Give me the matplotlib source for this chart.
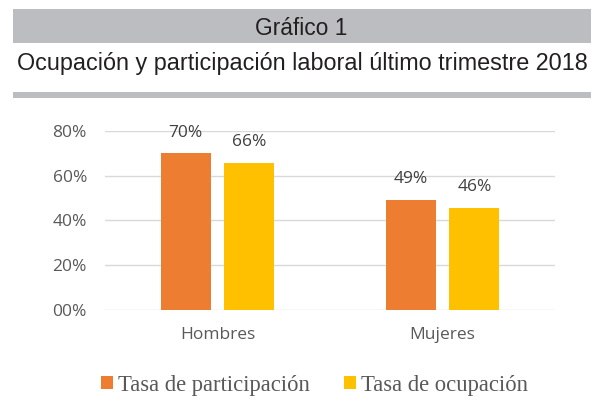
import matplotlib
matplotlib.use('Agg')
import matplotlib.pyplot as plt
from matplotlib.patches import Rectangle
import numpy as np

# datos
categorias = ['Hombres', 'Mujeres']
tasa_participacion = [0.70, 0.491]
tasa_ocupacion = [0.657, 0.456]
series = ['Tasa de participación', 'Tasa de ocupación']
yticks = [0, 0.2, 0.4, 0.6, 0.8]
ytick_labels = ['00%', '20%', '40%', '60%', '80%']

fig = plt.figure(figsize=(6, 4.08), dpi=100)

# cabecera: bandas grises y títulos
fig.patches.append(Rectangle((0.021, 0.8946), 0.9635, 0.0834, transform=fig.transFigure,
                             facecolor='#bcbdc0', edgecolor='none'))
fig.patches.append(Rectangle((0.021, 0.7598), 0.9635, 0.0147, transform=fig.transFigure,
                             facecolor='#bcbdc0', edgecolor='none'))
fig.text(0.502, 0.9142, 'Gráfico 1', family='Liberation Sans', fontsize=16.4,
         color='#231f20', ha='center', va='baseline')
fig.text(0.504, 0.8284, 'Ocupación y participación laboral último trimestre 2018',
         family='Liberation Sans', fontsize=16.8, color='#231f20', ha='center', va='baseline')

ax = fig.add_axes([0.175, 0.2402, 0.75, 0.4395])
x = np.arange(len(categorias))
w = 0.222
off = 0.142
b1 = ax.bar(x - off, tasa_participacion, w, color='#ED7D31', label=series[0], zorder=3)
b2 = ax.bar(x + off, tasa_ocupacion, w, color='#FFC000', label=series[1], zorder=3)

for bars in (b1, b2):
    for r in bars:
        h = r.get_height()
        ax.annotate(f'{h*100:.0f}%', (r.get_x() + r.get_width() / 2, h),
                    xytext=(0, 9), textcoords='offset points', ha='center', va='bottom',
                    family='Open Sans', fontsize=12.5, color='#404040')

ax.set_xlim(-0.5, 1.5)
ax.set_ylim(0, 0.8)
ax.set_yticks(yticks)
ax.set_yticklabels(ytick_labels)
ax.set_xticks(x)
ax.set_xticklabels(categorias)
for lab in ax.get_xticklabels() + ax.get_yticklabels():
    lab.set_family('Open Sans')
    lab.set_fontsize(12.5)
    lab.set_color('#595959')
ax.tick_params(axis='y', length=0, pad=13)
ax.tick_params(axis='x', length=0, pad=12)
ax.grid(axis='y', color='#d9d9d9', linewidth=1, zorder=0)
ax.set_axisbelow(True)
for s in ax.spines.values():
    s.set_visible(False)

fig.legend(handles=[b1, b2], loc='center', bbox_to_anchor=(0.524, 0.056), ncol=2,
           frameon=False, handlelength=0.55, handleheight=0.55, handletextpad=0.2,
           columnspacing=1.5, prop={'family': 'Liberation Serif', 'size': 16.3},
           labelcolor='#595959')

plt.savefig('out.png', dpi=100)
